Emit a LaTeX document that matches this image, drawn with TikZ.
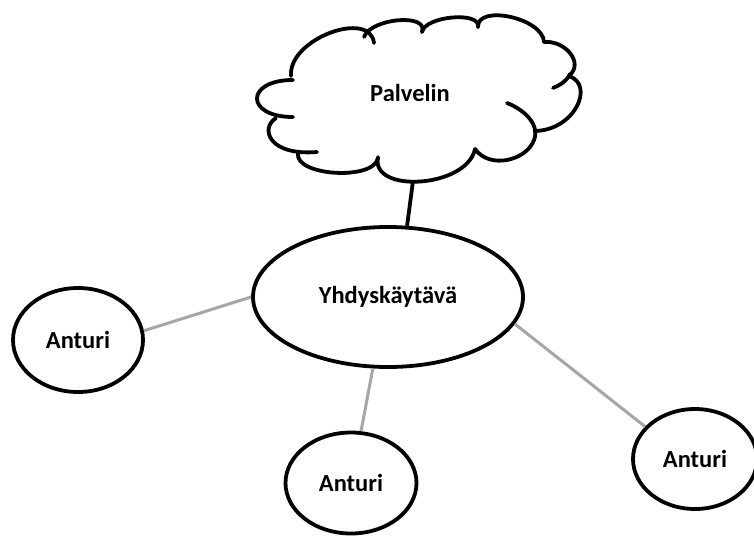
\documentclass[tikz,border=0pt]{standalone}
\usepackage{fontspec}
\setmainfont{Carlito}
\usetikzlibrary{shapes.geometric}
\definecolor{linkgray}{HTML}{A6A6A6}
\tikzset{
  bubble/.style={draw=black, line width=3.8pt, ellipse, inner sep=0pt, fill=white},
  lbl/.style={font=\fontsize{24.5}{27}\selectfont\bfseries},
  link/.style={draw=linkgray, line width=3pt},
  uplink/.style={draw=black, line width=3.8pt},
  cloudline/.style={draw=black, line width=3.8pt, line cap=round}
}
\begin{document}
\begin{tikzpicture}[x=1pt, y=-1pt]
\useasboundingbox[fill=white] (0,0) rectangle (754,535);

% nodes
\node[bubble, minimum width=270pt, minimum height=140pt] (gw) at (388,297) {};
\node[lbl] at (gw.center) {Yhdyskäytävä};
\node[bubble, minimum width=130pt, minimum height=104pt] (s1) at (78,340) {};
\node[lbl] at (s1.center) {Anturi};
\node[bubble, minimum width=131pt, minimum height=101pt] (s2) at (351,483) {};
\node[lbl] at (s2.center) {Anturi};
\node[bubble, minimum width=124pt, minimum height=100pt] (s3) at (695,459) {};
\node[lbl] at (s3.center) {Anturi};

% cloud
\draw[cloudline]
  (291,76) .. controls (288,39) and (370,9) .. (374,43);
\draw[cloudline]
  (364,37) .. controls (371,18) and (429,13) .. (422,32);
\draw[cloudline]
  (422,32) .. controls (425,16) and (481,11) .. (478,27);
\draw[cloudline]
  (478,27) .. controls (477,4) and (543,18) .. (544,42);
\draw[cloudline]
  (544,42) .. controls (564,40) and (585,62) .. (569,76);
\draw[cloudline]
  (570,74) .. controls (566,82) and (560,85) .. (553,88);
\draw[cloudline]
  (569,76) .. controls (595,85) and (575,130) .. (535,131);
\draw[cloudline]
  (507,103) .. controls (525,110) and (540,125) .. (534,140)
            .. controls (527,160) and (490,170) .. (475,149);
\draw[cloudline]
  (475,149) .. controls (467,188) and (370,194) .. (378,157);
\draw[cloudline]
  (378,158) .. controls (374,181) and (294,176) .. (298,153);
\draw[cloudline]
  (276,118) .. controls (260,128) and (268,156) .. (317,152);
\draw[cloudline]
  (293,117) .. controls (245,117) and (245,80) .. (293,80);
\node[lbl] (pal) at (410,93) {Palvelin};
\coordinate (cloudbot) at (413,181);

% connectors
\draw[uplink] (cloudbot) -- (gw.75);
\draw[link] (s1.8) -- (gw.180);
\draw[link] (gw.258) -- (s2.79);
\draw[link] (gw.348) -- (s3.147);
\end{tikzpicture}
\end{document}
